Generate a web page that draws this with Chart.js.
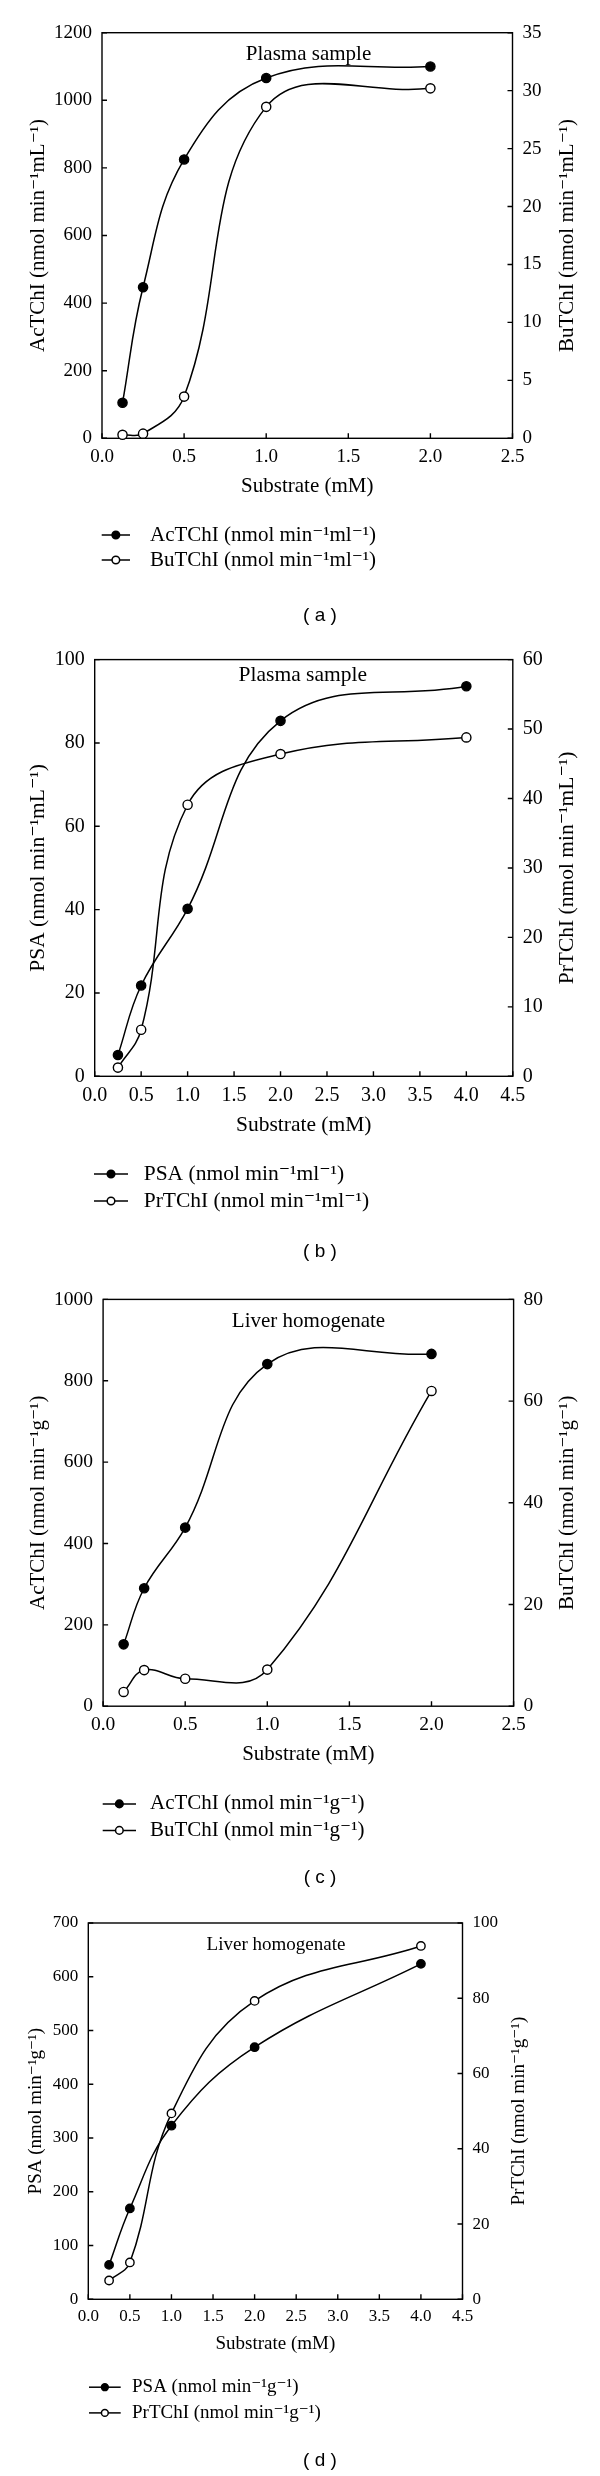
<!DOCTYPE html>
<html>
<head>
<meta charset="utf-8">
<script src="https://cdn.jsdelivr.net/npm/chart.js@4.4.1/dist/chart.umd.min.js"></script>
<style>
  html, body { margin: 0; padding: 0; background: #fff; }
  #page { position: relative; width: 600px; height: 2476px; }
  canvas { position: absolute; left: 0; }
</style>
</head>
<body>
<div id="page">
  <canvas id="chartA" width="600" height="630" style="top:0px"></canvas>
  <canvas id="chartB" width="600" height="632" style="top:630px"></canvas>
  <canvas id="chartC" width="600" height="628" style="top:1262px"></canvas>
  <canvas id="chartD" width="600" height="586" style="top:1890px"></canvas>
</div>
<script>
// (a) plasma, AcTChI / BuTChI
const substrateA = [0.125, 0.25, 0.5, 1, 2];
const acTChIPlasma = [105, 447, 825, 1066, 1100];
const buTChIPlasma = [0.3, 0.4, 3.6, 28.6, 30.2];

// (b) plasma, PSA / PrTChI
const substrateB = [0.25, 0.5, 1, 2, 4];
const psaPlasma = [5.1, 21.8, 40.2, 85.3, 93.6];
const prTChIPlasma = [1.25, 6.7, 39.1, 46.4, 48.8];

// (c) liver, AcTChI / BuTChI
const substrateC = [0.125, 0.25, 0.5, 1, 2];
const acTChILiver = [152, 290, 439, 841, 866];
const buTChILiver = [2.8, 7.1, 5.4, 7.2, 62.0];

// (d) liver, PSA / PrTChI
const substrateD = [0.25, 0.5, 1, 2, 4];
const psaLiver = [64, 169, 323, 469, 624];
const prTChILiver = [5.0, 9.8, 49.4, 79.3, 93.9];

const serif = "'Liberation Serif', 'DejaVu Serif', serif";
const ink = '#000';

// box, inward ticks, right title (reads bottom to top), legend and caption
const decor = {
  id: 'decor',
  beforeDatasetsDraw(chart, args, o) {
    const { ctx, chartArea: a, scales } = chart;
    ctx.save();
    ctx.strokeStyle = ink;
    ctx.lineWidth = 1.4;
    ctx.strokeRect(a.left, a.top, a.right - a.left, a.bottom - a.top);
    ctx.beginPath();
    for (const t of scales.x.ticks) {
      const p = scales.x.getPixelForValue(t.value);
      ctx.moveTo(p, a.bottom); ctx.lineTo(p, a.bottom - o.tick);
    }
    for (const t of scales.y.ticks) {
      const p = scales.y.getPixelForValue(t.value);
      ctx.moveTo(a.left, p); ctx.lineTo(a.left + o.tick, p);
    }
    for (const t of scales.y1.ticks) {
      const p = scales.y1.getPixelForValue(t.value);
      ctx.moveTo(a.right, p); ctx.lineTo(a.right - o.tick, p);
    }
    ctx.stroke();
    ctx.restore();
  },
  afterDraw(chart, args, o) {
    const { ctx, chartArea: a } = chart;
    ctx.save();
    ctx.fillStyle = ink;
    ctx.strokeStyle = ink;
    ctx.textBaseline = 'middle';
    ctx.font = o.font + 'px ' + serif;

    ctx.textAlign = 'center';
    ctx.fillText(o.panelTitle, o.titleX, o.titleY);

    ctx.save();
    ctx.translate(o.rightTitleX, (a.top + a.bottom) / 2);
    ctx.rotate(-Math.PI / 2);
    ctx.fillText(o.rightTitle, 0, 0);
    ctx.restore();

    ctx.textAlign = 'left';
    ctx.lineWidth = 1.5;
    chart.data.datasets.forEach((ds, i) => {
      const y = o.legendY[i];
      const [x0, x1, tx] = o.legendX;
      ctx.beginPath();
      ctx.moveTo(x0, y); ctx.lineTo(x1, y);
      ctx.stroke();
      ctx.beginPath();
      ctx.arc((x0 + x1) / 2, y, ds.pointRadius - 0.8, 0, Math.PI * 2);
      ctx.fillStyle = ds.pointBackgroundColor;
      ctx.fill();
      ctx.stroke();
      ctx.fillStyle = ink;
      ctx.fillText(ds.label, tx, y);
    });

    ctx.font = '19px "Liberation Sans", sans-serif';
    ctx.textAlign = 'center';
    ctx.fillText(o.caption, 320, o.captionY);
    ctx.restore();
  }
};

function makeChart(p) {
  const xh = 70;
  const lh = p.font * 1.2;
  const series = (ys, axis, fill, label) => ({
    label: label,
    data: p.xs.map((x, i) => ({ x: x, y: ys[i] })),
    yAxisID: axis,
    borderColor: ink,
    borderWidth: 1.5,
    pointRadius: p.r,
    pointBackgroundColor: fill,
    pointBorderColor: ink,
    pointBorderWidth: 1.4,
    tension: 0.4,
    clip: { left: false, top: false, right: false, bottom: 2 }
  });
  const tickFont = { family: serif, size: p.tickSize };
  const titleFont = { family: serif, size: p.font };
  const plain = v => String(v);

  return new Chart(document.getElementById(p.id), {
    type: 'line',
    data: {
      datasets: [
        series(p.s1, 'y', ink, p.legend[0]),
        series(p.s2, 'y1', '#fff', p.legend[1])
      ]
    },
    options: {
      responsive: false,
      animation: false,
      events: [],
      layout: { padding: { top: p.plotTop, left: 0, right: 0, bottom: p.height - p.plotBottom - xh } },
      plugins: {
        legend: { display: false },
        tooltip: { enabled: false },
        decor: {
          tick: 5, font: p.font,
          panelTitle: p.panelTitle, titleX: p.titleX, titleY: p.titleY,
          rightTitle: p.rightTitle, rightTitleX: p.rightTitleX,
          legendY: p.legendY, legendX: p.legendX,
          caption: p.caption, captionY: p.captionY
        }
      },
      scales: {
        x: {
          type: 'linear', min: 0, max: p.xMax,
          grid: { display: false, drawTicks: false },
          border: { display: false },
          ticks: { stepSize: 0.5, autoSkip: false, maxRotation: 0, padding: 7, color: ink, font: tickFont,
                   callback: v => v.toFixed(1) },
          title: { display: true, text: 'Substrate (mM)', color: ink, font: titleFont,
                   padding: { top: 0, bottom: p.plotBottom + xh - lh / 2 - p.xTitleY } },
          afterFit: s => { s.height = xh; }
        },
        y: {
          position: 'left', min: 0, max: p.yMax,
          grid: { display: false, drawTicks: false },
          border: { display: false },
          ticks: { stepSize: p.yStep, padding: 10, color: ink, font: tickFont, callback: plain },
          title: { display: true, text: p.leftTitle, color: ink, font: titleFont,
                   padding: { top: p.leftTitleX - lh / 2, bottom: 0 } },
          afterFit: s => { s.width = p.left; }
        },
        y1: {
          position: 'right', min: 0, max: p.y1Max,
          grid: { display: false, drawTicks: false },
          border: { display: false },
          ticks: { stepSize: p.y1Step, padding: 10, color: ink, font: tickFont, callback: plain },
          afterFit: s => { s.width = 600 - p.right; }
        }
      }
    },
    plugins: [decor]
  });
}

makeChart({
  id: 'chartA', height: 630, left: 102, right: 512.5, plotTop: 32.7, plotBottom: 438.3,
  xs: substrateA, s1: acTChIPlasma, s2: buTChIPlasma,
  xMax: 2.5, yMax: 1200, yStep: 200, y1Max: 35, y1Step: 5,
  font: 21, tickSize: 19, r: 4.6,
  leftTitle: 'AcTChI (nmol min⁻¹mL⁻¹)', rightTitle: 'BuTChI (nmol min⁻¹mL⁻¹)',
  leftTitleX: 38, rightTitleX: 567, xTitleY: 486,
  panelTitle: 'Plasma sample', titleX: 308.5, titleY: 54.5,
  legend: ['AcTChI (nmol min⁻¹ml⁻¹)', 'BuTChI (nmol min⁻¹ml⁻¹)'],
  legendY: [535, 560], legendX: [101.7, 130, 150],
  caption: '( a )', captionY: 616
});

makeChart({
  id: 'chartB', height: 632, left: 94.7, right: 512.8, plotTop: 29.6, plotBottom: 446.3,
  xs: substrateB, s1: psaPlasma, s2: prTChIPlasma,
  xMax: 4.5, yMax: 100, yStep: 20, y1Max: 60, y1Step: 10,
  font: 21.5, tickSize: 20, r: 4.6,
  leftTitle: 'PSA (nmol min⁻¹mL⁻¹)', rightTitle: 'PrTChI (nmol min⁻¹mL⁻¹)',
  leftTitleX: 38, rightTitleX: 567, xTitleY: 495.7,
  panelTitle: 'Plasma sample', titleX: 302.8, titleY: 45.4,
  legend: ['PSA (nmol min⁻¹ml⁻¹)', 'PrTChI (nmol min⁻¹ml⁻¹)'],
  legendY: [544, 571], legendX: [94, 128, 143.7],
  caption: '( b )', captionY: 622
});

makeChart({
  id: 'chartC', height: 628, left: 103.1, right: 513.6, plotTop: 37.4, plotBottom: 444.2,
  xs: substrateC, s1: acTChILiver, s2: buTChILiver,
  xMax: 2.5, yMax: 1000, yStep: 200, y1Max: 80, y1Step: 20,
  font: 21, tickSize: 19.5, r: 4.6,
  leftTitle: 'AcTChI (nmol min⁻¹g⁻¹)', rightTitle: 'BuTChI (nmol min⁻¹g⁻¹)',
  leftTitleX: 38, rightTitleX: 567, xTitleY: 492.4,
  panelTitle: 'Liver homogenate', titleX: 308.5, titleY: 59.9,
  legend: ['AcTChI (nmol min⁻¹g⁻¹)', 'BuTChI (nmol min⁻¹g⁻¹)'],
  legendY: [541.9, 568.4], legendX: [102.7, 136, 150],
  caption: '( c )', captionY: 615.8
});

makeChart({
  id: 'chartD', height: 586, left: 88.3, right: 462.5, plotTop: 33, plotBottom: 409.3,
  xs: substrateD, s1: psaLiver, s2: prTChILiver,
  xMax: 4.5, yMax: 700, yStep: 100, y1Max: 100, y1Step: 20,
  font: 19, tickSize: 17, r: 4.2,
  leftTitle: 'PSA (nmol min⁻¹g⁻¹)', rightTitle: 'PrTChI (nmol min⁻¹g⁻¹)',
  leftTitleX: 36, rightTitleX: 519, xTitleY: 453.6,
  panelTitle: 'Liver homogenate', titleX: 276, titleY: 54.7,
  legend: ['PSA (nmol min⁻¹g⁻¹)', 'PrTChI (nmol min⁻¹g⁻¹)'],
  legendY: [497.2, 522.9], legendX: [89, 120.7, 132],
  caption: '( d )', captionY: 570.4
});
</script>
</body>
</html>
